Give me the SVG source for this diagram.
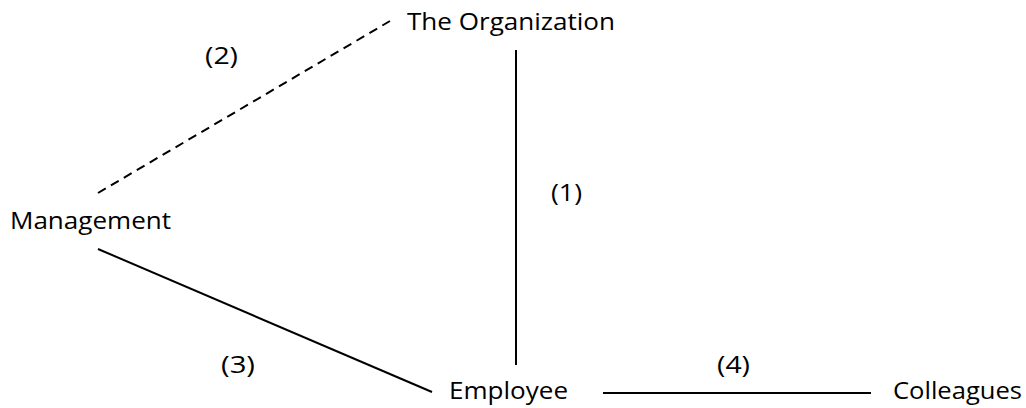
<svg xmlns="http://www.w3.org/2000/svg" width="1026" height="408" viewBox="0 0 1026 408">
<style>
text{font-family:"Open Sans","Noto Sans",sans-serif;font-size:23px;fill:#000}
.c line{stroke:#000;stroke-width:2;fill:none}
.d{stroke-dasharray:9,6}
</style>
<rect width="1026" height="408" fill="#fff"/>
<g class="c" id="connectors">
<line class="d" x1="98" y1="193" x2="390" y2="21"/>
<line x1="516" y1="50" x2="516" y2="365"/>
<line x1="98" y1="249" x2="432" y2="392"/>
<line x1="603" y1="393" x2="871" y2="393"/>
<text x="205" y="64" textLength="33" lengthAdjust="spacingAndGlyphs">(2)</text>
<text x="551" y="201" textLength="31" lengthAdjust="spacingAndGlyphs">(1)</text>
<text x="221" y="373" textLength="34" lengthAdjust="spacingAndGlyphs">(3)</text>
<text x="717" y="373" textLength="33" lengthAdjust="spacingAndGlyphs">(4)</text>
</g>
<g id="org"><text x="407" y="30" textLength="208" lengthAdjust="spacingAndGlyphs">The Organization</text></g>
<g id="management"><text x="10" y="229" textLength="161" lengthAdjust="spacingAndGlyphs">Management</text></g>
<g id="employee"><text x="449" y="399" textLength="119" lengthAdjust="spacingAndGlyphs">Employee</text></g>
<g id="colleagues"><text x="893" y="399" textLength="129" lengthAdjust="spacingAndGlyphs">Colleagues</text></g>
</svg>
